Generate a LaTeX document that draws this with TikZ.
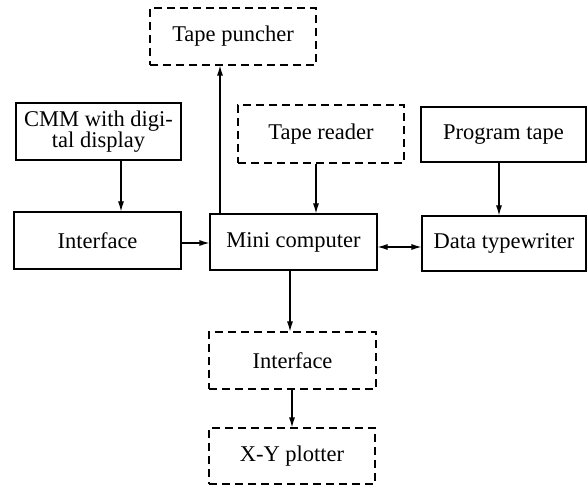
\documentclass[tikz,border=0pt]{standalone}
\usepackage{fontspec}
\setmainfont{Liberation Serif}
\usetikzlibrary{arrows.meta}
\begin{document}
\begin{tikzpicture}[x=1pt,y=-1pt,
  box/.style={draw, line width=1.1pt, inner sep=0pt, align=center,
    font=\fontsize{22.5}{21}\selectfont},
  dbox/.style={box, dash pattern=on 8pt off 5pt},
  arr/.style={line width=1.1pt, -{Latex[length=10pt,width=6pt]}},
  darr/.style={line width=1.1pt, {Latex[length=10pt,width=6pt]}-{Latex[length=10pt,width=6pt]}}]
\useasboundingbox (0,0) rectangle (588,486);
\node[dbox, minimum width=166pt, minimum height=57pt] (punch) at (233,36.5) {Tape puncher};
\node[box, minimum width=165pt, minimum height=57pt] (cmm) at (98.5,131.5) {CMM with digi-\\tal display};
\node[dbox, minimum width=166pt, minimum height=58pt] (reader) at (321,134) {Tape reader};
\node[box, minimum width=165pt, minimum height=55pt] (prog) at (503.5,134.5) {Program tape};
\node[box, minimum width=167pt, minimum height=57pt] (ifl) at (97.5,240.5) {Interface};
\node[box, minimum width=167pt, minimum height=56pt] (mini) at (293.5,242) {Mini computer};
\node[box, minimum width=164pt, minimum height=55pt] (data) at (504,243.5) {Data typewriter};
\node[dbox, minimum width=167pt, minimum height=57pt] (ifb) at (292.5,360.5) {Interface};
\node[dbox, minimum width=166pt, minimum height=56pt] (xy) at (292,456) {X-Y plotter};
\coordinate (xc) at (121,0);
\coordinate (xp) at (220,0);
\coordinate (xr) at (316,0);
\coordinate (xg) at (499,0);
\coordinate (xm) at (290,0);
\coordinate (xi) at (292,0);
\coordinate (ya) at (0,243);
\coordinate (yb) at (0,247);
\draw[arr] (cmm.south -| xc) -- (ifl.north -| xc);
\draw[arr] (mini.north -| xp) -- (punch.south -| xp);
\draw[arr] (reader.south -| xr) -- (mini.north -| xr);
\draw[arr] (prog.south -| xg) -- (data.north -| xg);
\draw[arr] (ifl.east |- ya) -- (mini.west |- ya);
\draw[darr] (mini.east |- yb) -- (data.west |- yb);
\draw[arr] (mini.south -| xm) -- (ifb.north -| xm);
\draw[arr] (ifb.south -| xi) -- (xy.north -| xi);
\end{tikzpicture}
\end{document}
